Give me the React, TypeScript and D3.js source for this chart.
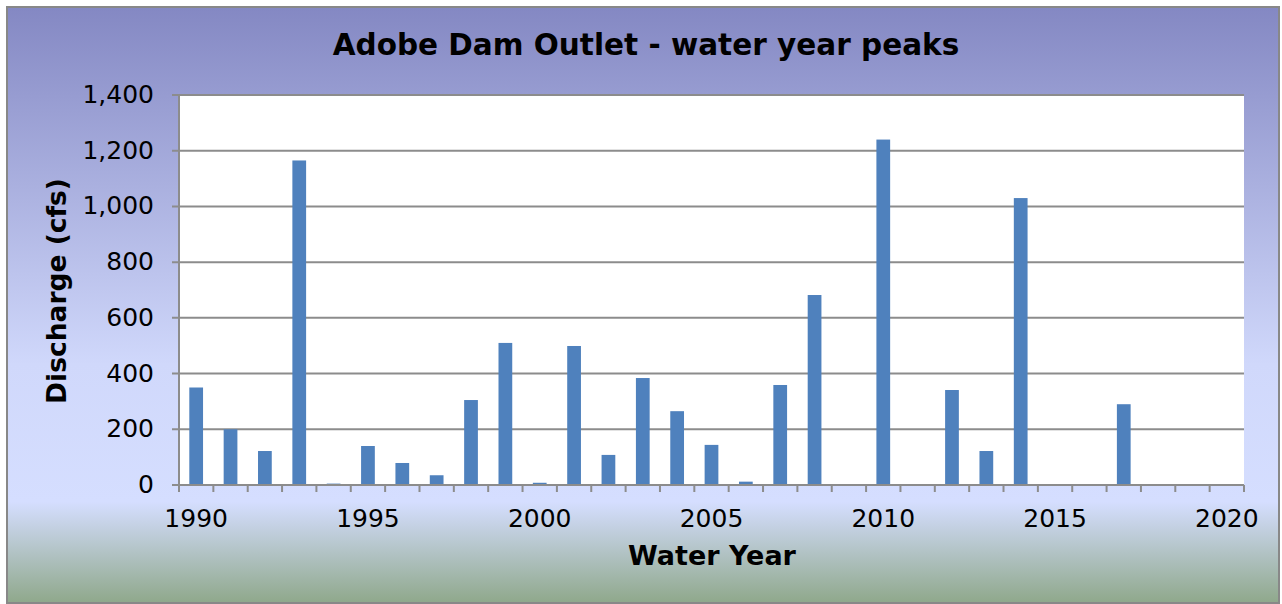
import * as d3 from "d3";

const years = d3.range(1990, 2021).map(String);
const peaks: (number | null)[] = [
  350, 200, 122, 1165, 5, 140, 79, 35, 305, 510,
  8, 499, 108, 384, 265, 144, 12, 359, 682, null,
  1240, null, 341, 122, 1030, null, null, 290, null, null,
  null,
];
const yTicks = [0, 200, 400, 600, 800, 1000, 1200, 1400];
const xLabels = ["1990", "1995", "2000", "2005", "2010", "2015", "2020"];

const width = 1282;
const height = 604;
const left = 179;
const right = 1244;
const top = 95;
const bottom = 485;
const font = "DejaVu Sans, sans-serif";

export default function App() {
  const x = d3.scaleBand(years, [left, right]).paddingInner(0).paddingOuter(0);
  const y = d3.scaleLinear([0, 1400], [bottom, top]);
  const bw = x.bandwidth() * 0.4;

  return (
    <svg
      width={width}
      height={height}
      style={{ position: "absolute", left: 0, top: 0 }}
    >
      <defs>
        <linearGradient id="bg" x1="0" y1="0" x2="0" y2="1">
          <stop offset="0" stopColor="#8488c3" />
          <stop offset="0.6" stopColor="#d0d8fb" />
          <stop offset="0.83" stopColor="#d5deff" />
          <stop offset="1" stopColor="#8fa88b" />
        </linearGradient>
      </defs>
      <rect x={7} y={7} width={1272} height={596} fill="url(#bg)" stroke="#888" strokeWidth={2} />
      <rect x={left} y={top} width={right - left} height={bottom - top} fill="#fff" />
      {/* gridlines */}
      <g stroke="#8c8c8c" strokeWidth={2}>
        {yTicks.map((t) => (
          <line key={t} x1={left - 7} x2={right} y1={y(t)} y2={y(t)} />
        ))}
        <line x1={left} x2={left} y1={top} y2={bottom} />
        {years.map((yr) => (
          <line key={yr} x1={x(yr)!} x2={x(yr)!} y1={bottom} y2={bottom + 7} />
        ))}
        <line x1={right} x2={right} y1={bottom} y2={bottom + 7} />
      </g>
      {/* bars */}
      <g fill="#4f81bd">
        {years.map((yr, i) =>
          peaks[i] == null ? null : (
            <rect
              key={yr}
              x={x(yr)! + (x.bandwidth() - bw) / 2}
              y={y(peaks[i]!)}
              width={bw}
              height={bottom - y(peaks[i]!)}
            />
          )
        )}
      </g>
      <line x1={left} x2={right} y1={bottom} y2={bottom} stroke="#8c8c8c" strokeWidth={2} />
      {/* y tick labels */}
      <g fontFamily={font} fontSize={25} textAnchor="end">
        {yTicks.map((t) => (
          <text key={t} x={left - 25} y={y(t) + 8}>
            {d3.format(",")(t)}
          </text>
        ))}
      </g>
      {/* x tick labels */}
      <g fontFamily={font} fontSize={25} textAnchor="middle">
        {xLabels.map((l) => (
          <text key={l} x={x(l)! + x.bandwidth() / 2} y={527}>
            {l}
          </text>
        ))}
      </g>
      <text x={646} y={55} fontFamily={font} fontSize={29.5} fontWeight="bold" textAnchor="middle">
        Adobe Dam Outlet - water year peaks
      </text>
      <text x={712} y={565} fontFamily={font} fontSize={27} fontWeight="bold" textAnchor="middle">
        Water Year
      </text>
      <text
        transform={`translate(66, 291) rotate(-90)`}
        fontFamily={font}
        fontSize={26.5}
        fontWeight="bold"
        textAnchor="middle"
      >
        Discharge (cfs)
      </text>
    </svg>
  );
}
